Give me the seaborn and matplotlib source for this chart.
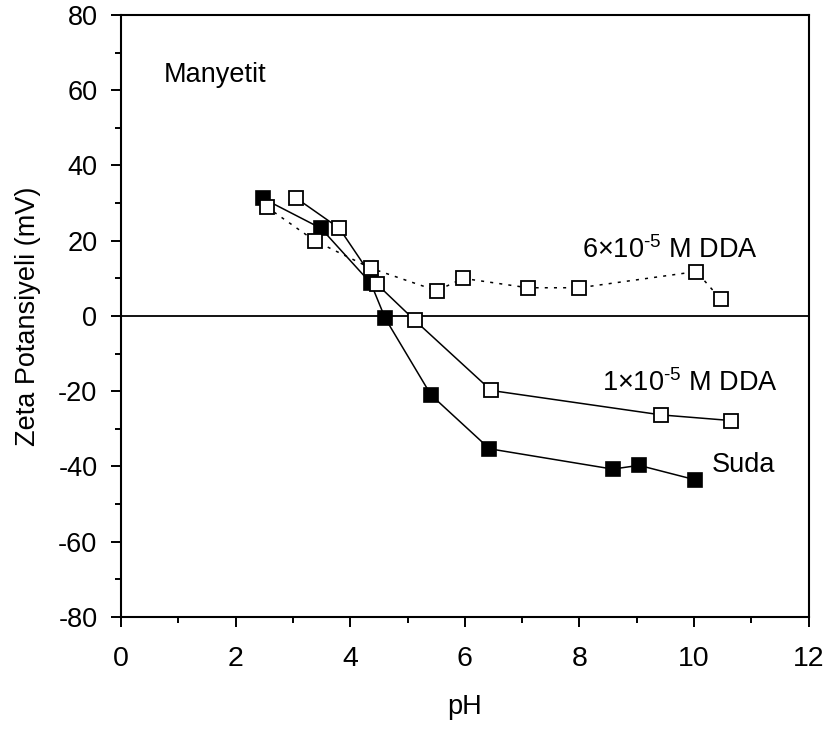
import matplotlib
matplotlib.use("Agg")
import matplotlib.pyplot as plt
import seaborn as sns
import pandas as pd
from matplotlib.ticker import MultipleLocator

# Data
suda_ph = [2.47, 3.49, 4.36, 4.61, 5.41, 6.43, 8.58, 9.04, 10.01]
suda_zeta = [31.3, 23.3, 8.7, -0.6, -21.0, -35.3, -40.7, -39.7, -43.5]

dda1_ph = [3.06, 3.81, 4.47, 5.13, 6.46, 9.43, 10.65]
dda1_zeta = [31.3, 23.3, 8.4, -1.2, -19.8, -26.3, -27.8]

dda6_ph = [2.54, 3.38, 4.36, 5.51, 5.97, 7.10, 8.00, 10.04, 10.47]
dda6_zeta = [29.0, 20.0, 12.7, 6.7, 10.0, 7.5, 7.5, 11.8, 4.4]

sns.set_theme(style="ticks")
plt.rcParams['font.family'] = ['Liberation Sans', 'DejaVu Sans']
plt.rcParams['axes.unicode_minus'] = False
plt.rcParams['mathtext.fontset'] = 'custom'
plt.rcParams['mathtext.rm'] = 'Liberation Sans'
plt.rcParams['mathtext.it'] = 'Liberation Sans'
plt.rcParams['mathtext.default'] = 'regular'

FS = 19.5

fig = plt.figure(figsize=(8.26, 7.31), dpi=100)
ax = fig.add_axes([0.1465, 0.156, 0.8325, 0.8235])

ax.axhline(0, color='black', lw=1.3, zorder=1)

df_s = pd.DataFrame({"pH": suda_ph, "zeta": suda_zeta})
df_1 = pd.DataFrame({"pH": dda1_ph, "zeta": dda1_zeta})
df_6 = pd.DataFrame({"pH": dda6_ph, "zeta": dda6_zeta})

sns.lineplot(data=df_s, x="pH", y="zeta", sort=False, estimator=None, ax=ax,
             color='black', lw=1.1, marker='s', markersize=10,
             markerfacecolor='black', markeredgecolor='black', markeredgewidth=1.2, zorder=3)
sns.lineplot(data=df_1, x="pH", y="zeta", sort=False, estimator=None, ax=ax,
             color='black', lw=1.1, marker='s', markersize=10,
             markerfacecolor='white', markeredgecolor='black', markeredgewidth=1.3, zorder=4)
sns.lineplot(data=df_6, x="pH", y="zeta", sort=False, estimator=None, ax=ax,
             color='black', lw=1.1, linestyle=(0, (2, 4)), marker='s', markersize=10,
             markerfacecolor='white', markeredgecolor='black', markeredgewidth=1.3, zorder=5)

ax.set_xlim(0, 12)
ax.set_ylim(-80, 80)
ax.xaxis.set_major_locator(MultipleLocator(2))
ax.xaxis.set_minor_locator(MultipleLocator(1))
ax.yaxis.set_major_locator(MultipleLocator(20))
ax.yaxis.set_minor_locator(MultipleLocator(10))
ax.tick_params(which='major', direction='out', length=7, width=1.4, color='black', labelcolor='black')
ax.tick_params(which='minor', direction='out', length=4, width=1.4, color='black')
ax.tick_params(axis='x', which='major', labelsize=FS + 1, pad=14)
ax.tick_params(axis='y', which='major', labelsize=FS, pad=10)

for s in ax.spines.values():
    s.set_visible(True)
    s.set_linewidth(1.5)
    s.set_color('black')

ax.set_xlabel("pH", fontsize=FS, color='black', labelpad=16)
ax.set_ylabel("Zeta Potansiyeli (mV)", fontsize=FS, color='black', labelpad=12)

ax.text(0.75, 64, "Manyetit", fontsize=FS, ha='left', va='center', color='black')
ax.text(8.05, 17.5, r"6×10$^{\text{-}5}$ M DDA", fontsize=FS, ha='left', va='center', color='black')
ax.text(8.40, -17.8, r"1×10$^{\text{-}5}$ M DDA", fontsize=FS, ha='left', va='center', color='black')
ax.text(10.31, -39.6, "Suda", fontsize=FS, ha='left', va='center', color='black')

fig.savefig("out.png", dpi=100)
